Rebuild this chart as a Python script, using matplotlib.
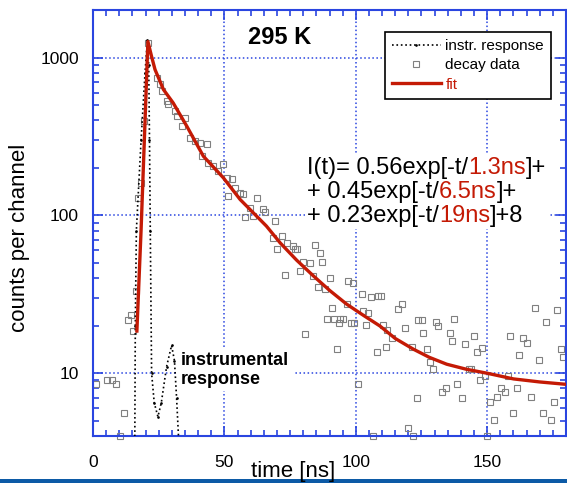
import matplotlib
matplotlib.use('Agg')
import matplotlib.pyplot as plt
from matplotlib.ticker import FixedLocator, LogLocator, NullFormatter, MultipleLocator
from matplotlib.offsetbox import TextArea, HPacker, VPacker, AnchoredOffsetbox
from matplotlib.patches import Rectangle

plt.rcParams['font.family'] = ['Liberation Sans', 'DejaVu Sans']

## fit curve (time ns, counts)
fit_t = [16.7, 18.3, 20.9, 22.3, 23.6, 26.8, 30.5, 35.7, 42.0, 49.6, 56.0, 66.0,
         71.2, 77.5, 83.9, 90.0, 96.5, 103.0, 109.2, 115.0, 121.9, 128.0, 134.6,
         142.0, 149.9, 160.0, 170.0, 180.0]
fit_c = [18.5, 81, 1262, 1014, 839, 627, 516, 367, 237, 173, 126, 85.5,
         67, 52, 41.3, 33.5, 27.4, 23.2, 19.9, 16.6, 14.2, 12.6, 11.4,
         10.6, 10.0, 9.2, 8.8, 8.5]

## instrument response (dotted)
irf_t = [15.9, 16.1, 16.5, 18.3, 19.8, 20.7, 21.2, 21.5, 21.8, 22.3, 23.3, 24.7,
         26.0, 28.0, 29.9, 31.0, 31.8, 32.7]
irf_c = [3.5, 20, 80, 300, 800, 1300, 900, 300, 80, 10, 6.5, 5.3,
         6.5, 11, 15, 12, 7, 3.5]

## decay data (squares)
data_t = [1.1, 5.2, 7.1, 8.8, 10.3, 11.9, 13.4, 14.3, 15.1, 16.4, 17.3, 18.3,
          19.5, 21.0, 24.2, 25.5, 26.1, 28.3, 28.6, 31.2, 32.1, 33.7, 35.0, 36.9,
          38.8, 40.7, 41.3, 43.3, 43.9, 45.8, 47.7, 49.3, 50.9, 51.5, 52.8, 54.1,
          56.0, 57.2, 57.9, 59.8, 61.0, 62.3, 64.8, 65.5, 68.4, 69.3, 70.0, 71.8,
          73.1, 73.7, 76.2, 76.9, 77.5, 78.8, 80.0, 80.7, 82.6, 83.9, 84.5, 85.7,
          86.4, 87.0, 88.3, 89.0, 90.0, 90.8, 91.7, 92.7, 93.8, 94.0, 95.3, 96.5,
          97.2, 98.0, 98.8, 99.3, 100.7, 102.3, 102.9, 104.0, 104.8, 105.7, 106.7,
          108.0, 108.6, 109.5, 110.5, 111.5, 111.8, 113.7, 116.2, 117.5, 118.8,
          120.0, 121.3, 121.9, 123.2, 123.8, 125.1, 125.7, 127.0, 128.3, 129.5,
          130.6, 131.4, 132.7, 134.4, 135.9, 136.5, 137.4, 138.7, 140.3, 141.6,
          142.9, 143.8, 144.8, 146.1, 147.1, 148.0, 149.2, 150.1, 151.1, 152.6,
          153.6, 155.2, 156.8, 158.0, 158.7, 159.7, 161.3, 162.3, 163.8, 165.1,
          166.6, 168.2, 169.9, 171.2, 172.4, 174.2, 175.5, 176.5, 178.0, 179.0]
data_c = [8.6, 9.1, 9.1, 8.6, 4.0, 5.6, 21.7, 23.3, 18.5, 33, 129, 161,
          395, 1240, 743, 677, 613, 530, 505, 457, 425, 367, 415, 310,
          295, 288, 237, 285, 215, 205, 191, 210, 173, 132, 169, 149,
          139, 136, 97, 112, 99, 129, 109, 105, 72, 92, 61, 74,
          42, 67, 64, 61, 61, 44.5, 51, 17.6, 50, 41, 65, 35.4,
          58, 51, 34, 22.2, 40, 26, 22.2, 14.2, 20.7, 22.2, 21.9, 27.4,
          38.4, 20.7, 37.5, 20.7, 8.6, 31.9, 24.9, 20.1, 24.1, 30.4, 4.0,
          13.6, 30.8, 31.0, 20.1, 14.7, 18.8, 16.8, 25.4, 27.4, 19.2,
          4.5, 14.7, 4.0, 7.0, 21.7, 21.7, 18.1, 14.2, 11.7, 10.6,
          21.1, 19.8, 7.55, 8.0, 18.1, 16.0, 22.2, 8.5, 7.0, 15.3,
          10.6, 10.7, 17.1, 13.6, 9.1, 14.5, 9.6, 4.0, 6.6, 5.06,
          7.1, 8.0, 7.55, 9.6, 17.1, 5.58, 8.0, 13.1, 16.8, 15.6,
          7.1, 25.8, 12.1, 5.58, 21.2, 5.06, 6.6, 25.2, 14.2, 12.7]

## equation pieces: (text, is_red)
eq_lines = [[('I(t)= 0.56exp[-t/', False), ('1.3ns', True), (']+', False)],
            [('+ 0.45exp[-t/', False), ('6.5ns', True), (']+', False)],
            [('+ 0.23exp[-t/', False), ('19ns', True), (']+8', False)]]

blue = '#2a45e0'
red = '#c41a05'

fig = plt.figure(figsize=(5.67, 4.83), dpi=100)
ax = fig.add_axes([93/567., 1-436/483., 473/567., 426/483.])

ax.plot(irf_t, irf_c, color='black', ls=':', lw=1.2, marker='.', ms=1.8,
        label='instr. response', zorder=3)
ax.plot(data_t, data_c, ls='none', marker='s', ms=4.5, mfc='none', mec='#808080',
        mew=0.8, label='decay data', clip_on=False, zorder=2)
ax.plot(fit_t, fit_c, color=red, lw=2.4, label='fit', zorder=4)

ax.set_yscale('log')
ax.set_xlim(0, 180)
ax.set_ylim(4, 2000)

ax.xaxis.set_major_locator(FixedLocator([0, 50, 100, 150]))
ax.xaxis.set_minor_locator(MultipleLocator(5))
ax.set_yticks([10, 100, 1000])
ax.set_yticklabels(['10', '100', '1000'])
ax.yaxis.set_minor_locator(LogLocator(base=10, subs=range(2, 10)))
ax.yaxis.set_minor_formatter(NullFormatter())

ax.tick_params(which='both', direction='in', top=True, right=True, color=blue,
               labelsize=12.5, width=1.2)
ax.tick_params(which='major', length=7)
ax.tick_params(which='minor', length=4)
ax.tick_params(axis='x', pad=14)
ax.tick_params(axis='y', pad=10)
for s in ax.spines.values():
    s.set_color(blue)
    s.set_linewidth(1.5)

ax.grid(True, which='major', color=blue, ls=':', lw=1.1)

## x label sits left of centre, squeezed between the 50 and 100 labels
fig.text(293/567., 1-472/483., 'time [ns]', fontsize=16, ha='center', va='center')
fig.text(20/567., 1-238/483., 'counts per channel', rotation=90, fontsize=16,
         ha='center', va='center')

fig.text(280/567., 1-38/483., '295 K', fontsize=17, fontweight='bold',
         ha='center', va='center')

## instrumental response label
ax.text(33.5, 10.5, 'instrumental\nresponse', fontsize=13, fontweight='bold',
        ha='left', va='center', linespacing=1.15,
        bbox=dict(facecolor='white', edgecolor='none', pad=2.5), zorder=5)

## legend
leg = ax.legend(loc='upper right', bbox_to_anchor=(0.968, 0.948), borderaxespad=0,
                fontsize=11, fancybox=False, edgecolor='black', framealpha=1,
                handlelength=3.2, handletextpad=0.3, labelspacing=0.35,
                borderpad=0.45, numpoints=1)
leg.get_frame().set_linewidth(1.2)
leg.get_texts()[2].set_color(red)

## equation with red time constants
rows = []
for line in eq_lines:
    parts = [TextArea(txt, textprops=dict(fontsize=17, color=red if isred else 'black'))
             for txt, isred in line]
    rows.append(HPacker(children=parts, align='baseline', pad=0, sep=0))
eq = VPacker(children=rows, align='left', pad=0, sep=1.5)
box = AnchoredOffsetbox(loc='upper left', child=eq, bbox_to_anchor=(305/567., 1-155/483.),
                        bbox_transform=fig.transFigure, frameon=True, pad=0.15,
                        borderpad=0)
box.patch.set_facecolor('white')
box.patch.set_edgecolor('none')
box.set_zorder(5)
ax.add_artist(box)

## blue band along the bottom edge
fig.patches.append(Rectangle((0, 0), 1, 4.5/483., transform=fig.transFigure,
                             facecolor='#0c5aa6', edgecolor='none', zorder=0))

fig.savefig('out.png', dpi=100)
